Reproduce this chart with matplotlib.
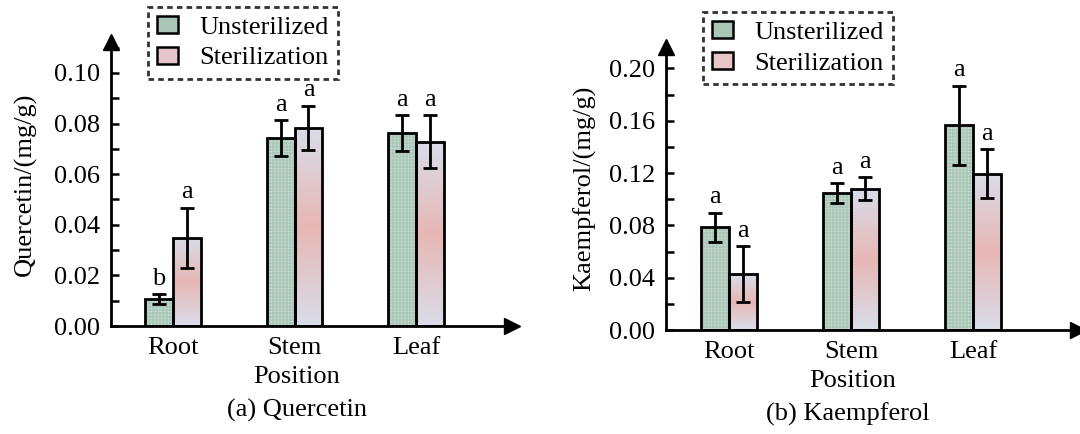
import numpy as np
import matplotlib
matplotlib.use("Agg")
import matplotlib.pyplot as plt
from matplotlib.colors import LinearSegmentedColormap
from matplotlib.patches import Patch
from matplotlib.ticker import MultipleLocator, FormatStrFormatter

plt.rcParams['font.family'] = ['Liberation Serif', 'DejaVu Serif']
plt.rcParams['hatch.linewidth'] = 0.4
plt.rcParams['hatch.color'] = '#c6dad0'

parts = ['Root', 'Stem', 'Leaf']
groups = ['Unsterilized', 'Sterilization']

# quercetin, mg/g
que_unst = [0.0106, 0.0742, 0.0762]
que_unst_err = [0.0020, 0.0070, 0.0070]
que_ster = [0.0348, 0.0784, 0.0728]
que_ster_err = [0.0120, 0.0087, 0.0105]
que_unst_lbl = ['b', 'a', 'a']
que_ster_lbl = ['a', 'a', 'a']

# kaempferol, mg/g
kae_unst = [0.0787, 0.1047, 0.1567]
kae_unst_err = [0.0111, 0.0075, 0.0302]
kae_ster = [0.0428, 0.1080, 0.1195]
kae_ster_err = [0.0213, 0.0089, 0.0188]
kae_unst_lbl = ['a', 'a', 'a']
kae_ster_lbl = ['a', 'a', 'a']

green = '#a9c6b9'
grad = LinearSegmentedColormap.from_list('st', ['#d9dde9', '#e7b7b5', '#d9dde9'])
fs = 19


def panel(fig, rect, xlim, ylim, major, unst, unst_err, ster, ster_err,
          lbl_u, lbl_s, ylabel, leg_anchor, poslbl_x, ylpad):
    ax = fig.add_axes(rect)
    x = np.arange(len(parts))
    w = 0.23
    # green bars with fine grid texture
    ax.bar(x - w / 2, unst, w, color=green, hatch='+++++', edgecolor='#c6dad0',
           linewidth=0, zorder=2)
    ax.bar(x - w / 2, unst, w, fill=False, edgecolor='black', linewidth=2, zorder=3)
    # gradient bars
    bars = ax.bar(x + w / 2, ster, w, fill=False, edgecolor='black', linewidth=2, zorder=3)
    img = np.linspace(0, 1, 256).reshape(-1, 1)
    for b in bars:
        x0, h = b.get_x(), b.get_height()
        im = ax.imshow(img, cmap=grad, extent=[x0, x0 + w, 0, h], aspect='auto',
                       origin='lower', zorder=2)
        im.set_clip_path(b)
    ax.errorbar(x - w / 2, unst, yerr=unst_err, fmt='none', ecolor='black',
                elinewidth=2, capsize=5, capthick=2, zorder=4)
    ax.errorbar(x + w / 2, ster, yerr=ster_err, fmt='none', ecolor='black',
                elinewidth=2, capsize=5, capthick=2, zorder=4)
    for i in range(len(parts)):
        ax.annotate(lbl_u[i], (x[i] - w / 2, unst[i] + unst_err[i]), xytext=(0, 3),
                    textcoords='offset points', ha='center', va='bottom', fontsize=fs)
        ax.annotate(lbl_s[i], (x[i] + w / 2, ster[i] + ster_err[i]), xytext=(0, 3),
                    textcoords='offset points', ha='center', va='bottom', fontsize=fs)

    ax.set_xlim(*xlim)
    ax.set_ylim(*ylim)
    ax.set_xticks(x)
    ax.set_xticklabels(parts, fontsize=fs)
    ax.tick_params(axis='x', length=0, pad=8)
    ax.yaxis.set_minor_locator(MultipleLocator(major / 2))
    ax.set_yticks(np.arange(0, ylim[1] * 0.96, major))
    ax.yaxis.set_major_formatter(FormatStrFormatter('%.2f'))
    ax.tick_params(axis='y', which='both', direction='in', length=6, width=1.8,
                   labelsize=fs, pad=8)
    for s in ['top', 'right']:
        ax.spines[s].set_visible(False)
    for s in ['left', 'bottom']:
        ax.spines[s].set_linewidth(2)
    ax.plot(0, 1, marker='^', ms=11, color='black', transform=ax.transAxes, clip_on=False)
    ax.plot(1, 0, marker='>', ms=11, color='black', transform=ax.transAxes, clip_on=False)
    ax.set_ylabel(ylabel, fontsize=fs, labelpad=ylpad)
    ax.set_xlabel('Position', fontsize=fs)
    ax.xaxis.set_label_coords(poslbl_x, -0.14)

    handles = [Patch(facecolor=green, edgecolor='black', linewidth=1.8),
               Patch(facecolor='#e6c6c8', edgecolor='black', linewidth=1.8)]
    leg = ax.legend(handles, groups, loc='upper left', bbox_to_anchor=leg_anchor,
                    bbox_transform=fig.transFigure, fontsize=fs, frameon=True,
                    fancybox=False, borderaxespad=0, handlelength=0.8,
                    handleheight=0.6, handletextpad=0.8, labelspacing=0.3,
                    borderpad=0.35)
    fr = leg.get_frame()
    fr.set_edgecolor('black')
    fr.set_linewidth(2)
    fr.set_linestyle((0, (2, 1.5)))
    return ax


fig = plt.figure(figsize=(10.8, 4.34), dpi=100)
panel(fig, [0.1028, 0.2488, 0.3713, 0.6544], (-0.51, 2.79), (0, 0.1122), 0.02,
      que_unst, que_unst_err, que_ster, que_ster_err, que_unst_lbl, que_ster_lbl,
      'Quercetin/(mg/g)', (0.137, 0.984), 0.464, 12)
panel(fig, [0.6167, 0.2396, 0.3815, 0.652], (-0.516, 2.86), (0, 0.2163), 0.04,
      kae_unst, kae_unst_err, kae_ster, kae_ster_err, kae_unst_lbl, kae_ster_lbl,
      'Kaempferol/(mg/g)', (0.651, 0.972), 0.454, 9)
fig.text(0.275, 0.055, '(a) Quercetin', ha='center', va='center', fontsize=fs)
fig.text(0.785, 0.046, '(b) Kaempferol', ha='center', va='center', fontsize=fs)

fig.savefig('out.png', dpi=100, facecolor='white')
